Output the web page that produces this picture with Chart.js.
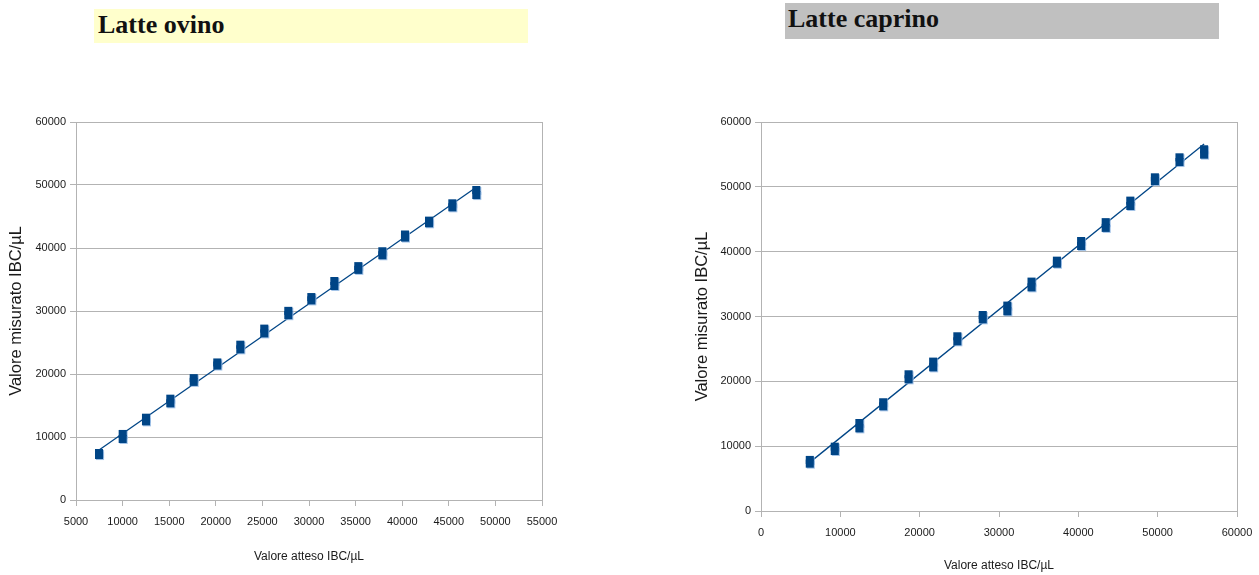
<!DOCTYPE html>
<html lang="it">
<head>
<meta charset="utf-8">
<title>Latte ovino / Latte caprino</title>
<script src="https://cdn.jsdelivr.net/npm/chart.js@4.4.1/dist/chart.umd.min.js"></script>
<style>
  html, body { margin: 0; padding: 0; background: #ffffff; }
  body { position: relative; width: 1259px; height: 575px; overflow: hidden; }
  .titolo {
    position: absolute;
    font-family: "Liberation Serif", "DejaVu Serif", serif;
    font-weight: bold;
    font-size: 26px;
    color: #111111;
    box-sizing: border-box;
    white-space: nowrap;
  }
  #titoloOvino { left: 94px; top: 9px; width: 434px; height: 34px; background: #ffffcc; padding: 0 0 0 4px; line-height: 32px; }
  #titoloCaprino { left: 785px; top: 3px; width: 434px; height: 36px; background: #c0c0c0; padding: 0 0 0 3px; line-height: 32px; }
  canvas { position: absolute; }
  #graficoOvino { left: 0px; top: 100px; }
  #graficoCaprino { left: 690px; top: 100px; }
</style>
</head>
<body>
<div class="titolo" id="titoloOvino">Latte ovino</div>
<div class="titolo" id="titoloCaprino">Latte caprino</div>
<canvas id="graficoOvino" width="560" height="475"></canvas>
<canvas id="graficoCaprino" width="569" height="475"></canvas>
<script>
// Latte ovino: valore atteso vs due letture misurate (IBC/µL)
const ovinoAtteso   = [7470, 10010, 12510, 15120, 17630, 20160, 22630, 25200, 27780, 30250, 32720, 35290, 37870, 40300, 42880, 45380, 47950];
const ovinoMisura1  = [7460, 10480, 13060, 16080, 19340, 21830, 24650, 27200, 30020, 32210, 34760, 37120, 39480, 42140, 44340, 47090, 49200];
const ovinoMisura2  = [7140,  9690, 12490, 15350, 18750, 21350, 23920, 26450, 29340, 31690, 33970, 36530, 38850, 41660, 43930, 46460, 48410];
const ovinoTrendX   = [7470, 47950];
const ovinoTrendY   = [7950, 49650];
const ovinoTickX    = [5000, 10000, 15000, 20000, 25000, 30000, 35000, 40000, 45000, 50000, 55000];
const ovinoTickY    = [0, 10000, 20000, 30000, 40000, 50000, 60000];

// Latte caprino
const caprinoAtteso  = [6150, 9300, 12400, 15400, 18600, 21700, 24750, 27950, 31050, 34100, 37300, 40350, 43450, 46550, 49650, 52750, 55850];
const caprinoMisura1 = [7875, 9920, 13570, 16770, 21085, 23040, 26945, 30230, 31680, 35380, 38610, 41645, 44550, 47870, 51465, 54550, 55790];
const caprinoMisura2 = [7305, 9260, 12750, 16150, 20315, 22160, 26175, 29570, 30800, 34500, 38150, 40875, 43670, 47050, 50895, 53830, 54970];
const caprinoTrendX  = [6150, 55850];
const caprinoTrendY  = [7500, 56600];
const caprinoTickX   = [0, 10000, 20000, 30000, 40000, 50000, 60000];
const caprinoTickY   = [0, 10000, 20000, 30000, 40000, 50000, 60000];

const BLU = '#004586';
const GRIGLIA = '#b3b3b3';
const FONT_ASSI = "'Liberation Sans Narrow', 'Liberation Sans', Arial, sans-serif";

function punti(xs, ys) { return xs.map((x, i) => ({ x: x, y: ys[i] })); }

// light-blue drop shadow under the square markers
const ombraMarcatori = {
  id: 'ombraMarcatori',
  beforeDatasetDraw(chart, args) {
    const ds = chart.data.datasets[args.index];
    if (!ds.ombra) return;
    const ctx = chart.ctx;
    ctx.save();
    ctx.shadowColor = 'rgba(140,180,225,0.8)';
    ctx.shadowOffsetX = 1;
    ctx.shadowOffsetY = 1;
    ctx.shadowBlur = 0;
  },
  afterDatasetDraw(chart, args) {
    const ds = chart.data.datasets[args.index];
    if (!ds.ombra) return;
    chart.ctx.restore();
  }
};

function serieMisura(xs, ys) {
  return {
    data: punti(xs, ys),
    pointStyle: 'rect',
    pointRadius: 5.7,
    pointHoverRadius: 5.7,
    backgroundColor: BLU,
    borderColor: BLU,
    borderWidth: 0,
    showLine: false,
    order: 1,
    ombra: true
  };
}

function creaGrafico(id, cfg) {
  const lastX = cfg.tickX.length - 1;
  return new Chart(document.getElementById(id), {
    type: 'scatter',
    data: {
      datasets: [
        // lower reading first so it is painted last, over the upper one's shadow
        serieMisura(cfg.atteso, cfg.mis2),
        serieMisura(cfg.atteso, cfg.mis1),
        {
          data: punti(cfg.trendX, cfg.trendY),
          showLine: true,
          borderColor: BLU,
          borderWidth: 1.3,
          pointRadius: 0,
          pointHoverRadius: 0,
          fill: false,
          order: 2
        }
      ]
    },
    options: {
      responsive: false,
      animation: false,
      events: [],
      layout: { padding: cfg.padding },
      plugins: { legend: { display: false }, tooltip: { enabled: false }, title: { display: false } },
      scales: {
        x: {
          type: 'linear',
          min: cfg.tickX[0],
          max: cfg.tickX[lastX],
          afterBuildTicks: s => { s.ticks = cfg.tickX.map(v => ({ value: v })); },
          afterFit: s => { s.height = cfg.altezzaX; s.paddingLeft = 0; s.paddingRight = 0; },
          grid: {
            drawOnChartArea: true,
            color: c => (c.index === lastX ? GRIGLIA : 'rgba(0,0,0,0)'),
            tickColor: GRIGLIA,
            tickLength: 6,
            lineWidth: 1
          },
          border: { display: true, color: GRIGLIA, width: 1 },
          ticks: {
            autoSkip: false,
            maxRotation: 0,
            padding: 9,
            color: '#1a1a1a',
            font: { family: FONT_ASSI, size: 11 },
            callback: v => String(v)
          },
          title: {
            display: true,
            text: 'Valore atteso IBC/µL',
            color: '#1a1a1a',
            font: { family: FONT_ASSI, size: 12 },
            padding: { top: 0, bottom: cfg.padTitoloX }
          }
        },
        y: {
          type: 'linear',
          min: cfg.tickY[0],
          max: cfg.tickY[cfg.tickY.length - 1],
          afterBuildTicks: s => { s.ticks = cfg.tickY.map(v => ({ value: v })); },
          afterFit: s => { s.width = cfg.larghezzaY; },
          grid: { color: GRIGLIA, tickColor: GRIGLIA, tickLength: 6, lineWidth: 1 },
          border: { display: true, color: GRIGLIA, width: 1 },
          ticks: {
            autoSkip: false,
            padding: 4,
            color: '#1a1a1a',
            font: { family: FONT_ASSI, size: 11 },
            callback: v => String(v)
          },
          title: {
            display: true,
            text: 'Valore misurato IBC/µL',
            color: '#1a1a1a',
            font: { family: FONT_ASSI, size: 16.5 },
            padding: { top: cfg.padTitoloY, bottom: 0 }
          }
        }
      }
    },
    plugins: [ombraMarcatori]
  });
}

creaGrafico('graficoOvino', {
  atteso: ovinoAtteso, mis1: ovinoMisura1, mis2: ovinoMisura2,
  trendX: ovinoTrendX, trendY: ovinoTrendY,
  tickX: ovinoTickX, tickY: ovinoTickY,
  padding: { top: 22, right: 18, left: 0, bottom: 0 },
  larghezzaY: 76, altezzaX: 75,
  padTitoloX: 11, padTitoloY: 7
});

creaGrafico('graficoCaprino', {
  atteso: caprinoAtteso, mis1: caprinoMisura1, mis2: caprinoMisura2,
  trendX: caprinoTrendX, trendY: caprinoTrendY,
  tickX: caprinoTickX, tickY: caprinoTickY,
  padding: { top: 22, right: 22, left: 0, bottom: 0 },
  larghezzaY: 71, altezzaX: 64,
  padTitoloX: 2, padTitoloY: 3
});
</script>
</body>
</html>
